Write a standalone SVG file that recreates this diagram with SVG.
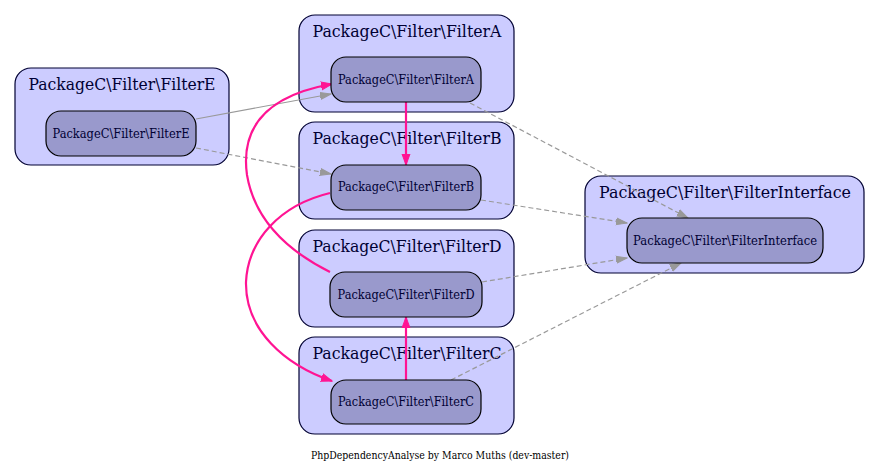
<svg xmlns="http://www.w3.org/2000/svg" width="880" height="473" viewBox="0 0 880 473">
<style>
.cl{fill:#ccccff;stroke:#000033;stroke-width:1.2}
.nd{fill:#9999cc;stroke:#000000;stroke-width:1.2}
.ct{font-family:"DejaVu Serif","Liberation Serif",serif;font-size:17.5px;fill:#000033;text-anchor:middle}
.nt{font-family:"DejaVu Serif","Liberation Serif",serif;font-size:12.5px;fill:#000033;text-anchor:middle}
.ft{font-family:"DejaVu Serif","Liberation Serif",serif;font-size:11.5px;fill:#000000;text-anchor:middle}
.pk{fill:none;stroke:#ff1493;stroke-width:2.2}
.gs{fill:none;stroke:#999999;stroke-width:1.2}
.gd{fill:none;stroke:#999999;stroke-width:1.2;stroke-dasharray:5,3}
</style>
<defs>
<marker id="ap" markerUnits="userSpaceOnUse" markerWidth="12" markerHeight="10" viewBox="0 0 12 10" refX="11" refY="5" orient="auto">
<path d="M0,1 L11,5 L0,9 z" fill="#ff1493" stroke="#ff1493"/>
</marker>
<marker id="ag" markerUnits="userSpaceOnUse" markerWidth="12" markerHeight="10" viewBox="0 0 12 10" refX="11" refY="5" orient="auto">
<path d="M0,1.5 L11,5 L0,8.5 z" fill="#999999" stroke="#999999"/>
</marker>
</defs>
<rect width="880" height="473" fill="#ffffff"/>
<g id="clusterE">
<rect class="cl" x="15" y="68" width="214" height="97" rx="16"/>
<text class="ct" x="122" y="90" textLength="187" lengthAdjust="spacingAndGlyphs">PackageC\Filter\FilterE</text>
</g>
<g id="clusterA">
<rect class="cl" x="299" y="15" width="215" height="97" rx="16"/>
<text class="ct" x="407" y="37" textLength="189" lengthAdjust="spacingAndGlyphs">PackageC\Filter\FilterA</text>
</g>
<g id="clusterB">
<rect class="cl" x="299" y="122" width="215" height="97" rx="16"/>
<text class="ct" x="407" y="144" textLength="189" lengthAdjust="spacingAndGlyphs">PackageC\Filter\FilterB</text>
</g>
<g id="clusterD">
<rect class="cl" x="299" y="230" width="215" height="97" rx="16"/>
<text class="ct" x="407" y="252" textLength="189" lengthAdjust="spacingAndGlyphs">PackageC\Filter\FilterD</text>
</g>
<g id="clusterC">
<rect class="cl" x="299" y="337" width="215" height="97" rx="16"/>
<text class="ct" x="407" y="359" textLength="189" lengthAdjust="spacingAndGlyphs">PackageC\Filter\FilterC</text>
</g>
<g id="clusterInterface">
<rect class="cl" x="585" y="176" width="279" height="97" rx="16"/>
<text class="ct" x="725" y="198" textLength="252" lengthAdjust="spacingAndGlyphs">PackageC\Filter\FilterInterface</text>
</g>
<g id="edges">
<path class="gs" d="M196,119 L331,94" marker-end="url(#ag)"/>
<path class="gd" d="M196,148 L331,174" marker-end="url(#ag)"/>
<path class="gd" d="M470,103 L688,218" marker-end="url(#ag)"/>
<path class="gd" d="M481,200 L627,223" marker-end="url(#ag)"/>
<path class="gd" d="M482,282 L627,258" marker-end="url(#ag)"/>
<path class="gd" d="M451,380 L681,263" marker-end="url(#ag)"/>
<path class="pk" d="M406,102 L406,165" marker-end="url(#ap)"/>
<path class="pk" d="M406,380 L406,317" marker-end="url(#ap)"/>
<path class="pk" d="M330,272 C290,252 255,222 247,175 C240,125 270,95 332,84" marker-end="url(#ap)"/>
<path class="pk" d="M330,193 C280,205 248,240 246,282 C245,330 285,365 332,381" marker-end="url(#ap)"/>
</g>
<g id="nodeE">
<rect class="nd" x="46" y="111" width="150" height="45" rx="15"/>
<text class="nt" x="121" y="138" textLength="137" lengthAdjust="spacingAndGlyphs">PackageC\Filter\FilterE</text>
</g>
<g id="nodeA">
<rect class="nd" x="331" y="57" width="150" height="45" rx="15"/>
<text class="nt" x="406" y="84" textLength="136" lengthAdjust="spacingAndGlyphs">PackageC\Filter\FilterA</text>
</g>
<g id="nodeB">
<rect class="nd" x="331" y="165" width="150" height="45" rx="15"/>
<text class="nt" x="406" y="191" textLength="136" lengthAdjust="spacingAndGlyphs">PackageC\Filter\FilterB</text>
</g>
<g id="nodeD">
<rect class="nd" x="330" y="272" width="152" height="45" rx="15"/>
<text class="nt" x="406" y="299" textLength="137" lengthAdjust="spacingAndGlyphs">PackageC\Filter\FilterD</text>
</g>
<g id="nodeC">
<rect class="nd" x="331" y="380" width="150" height="44" rx="15"/>
<text class="nt" x="406" y="406" textLength="136" lengthAdjust="spacingAndGlyphs">PackageC\Filter\FilterC</text>
</g>
<g id="nodeInterface">
<rect class="nd" x="627" y="218" width="196" height="45" rx="15"/>
<text class="nt" x="725" y="245" textLength="184" lengthAdjust="spacingAndGlyphs">PackageC\Filter\FilterInterface</text>
</g>
<text class="ft" x="440" y="459" textLength="258" lengthAdjust="spacingAndGlyphs">PhpDependencyAnalyse by Marco Muths (dev-master)</text>
</svg>
